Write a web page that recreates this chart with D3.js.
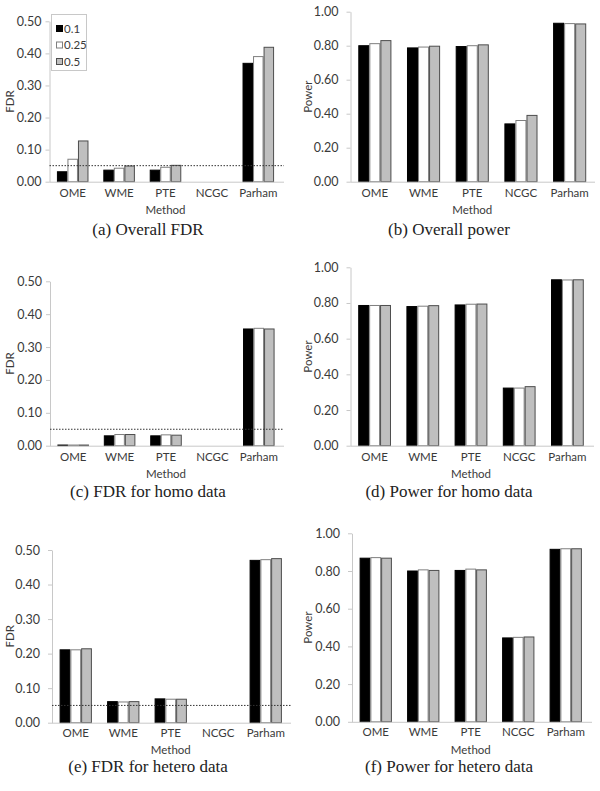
<!DOCTYPE html>
<html>
<head>
<meta charset="utf-8">
<script src="https://cdn.jsdelivr.net/npm/d3@7"></script>
<style>
  html, body { margin: 0; padding: 0; background: #fff; }
  svg { display: block; }
</style>
</head>
<body>
<svg id="chart" width="600" height="791"></svg>
<script>
// ---------------- DATA ----------------
const categories = ["OME", "WME", "PTE", "NCGC", "Parham"];
const levels = ["0.1", "0.25", "0.5"];
const fdrTicks = [0, 0.1, 0.2, 0.3, 0.4, 0.5];
const powerTicks = [0, 0.2, 0.4, 0.6, 0.8, 1.0];
const fdrThreshold = 0.05;

// each inner array: one level (0.1, 0.25, 0.5) across categories
const overallFDR = [
  [0.031, 0.036, 0.036, 0, 0.369],
  [0.070, 0.042, 0.045, 0, 0.390],
  [0.127, 0.049, 0.051, 0, 0.419]
];
const overallPower = [
  [0.800, 0.787, 0.795, 0.340, 0.932],
  [0.812, 0.792, 0.800, 0.360, 0.930],
  [0.830, 0.797, 0.805, 0.390, 0.928]
];
const homoFDR = [
  [0.002, 0.030, 0.030, 0, 0.355],
  [0.002, 0.034, 0.033, 0, 0.357],
  [0.002, 0.034, 0.032, 0, 0.355]
];
const homoPower = [
  [0.786, 0.780, 0.789, 0.323, 0.930],
  [0.786, 0.782, 0.793, 0.323, 0.929],
  [0.786, 0.785, 0.794, 0.331, 0.930]
];
const heteroFDR = [
  [0.211, 0.061, 0.069, 0, 0.470],
  [0.211, 0.060, 0.068, 0, 0.472],
  [0.214, 0.061, 0.068, 0, 0.475]
];
const heteroPower = [
  [0.868, 0.800, 0.803, 0.445, 0.915],
  [0.871, 0.806, 0.810, 0.448, 0.918],
  [0.868, 0.803, 0.806, 0.450, 0.918]
];
const captions = [
  "(a) Overall FDR", "(b) Overall power",
  "(c) FDR for homo data", "(d) Power for homo data",
  "(e) FDR for hetero data", "(f) Power for hetero data"
];

// ---------------- STYLE ----------------
const fills = ["#000000", "#ffffff", "#bfbfbf"];
const strokes = ["#000000", "#7f7f7f", "#4d4d4d"];
const axisColor = "#c8c8c8";
const textColor = "#3a3a3a";
const sans = "Lato, 'Open Sans', sans-serif";
const serif = "'Liberation Serif', 'DejaVu Serif', serif";

const svg = d3.select("#chart");

function drawPanel(cfg) {
  const g = svg.append("g");
  const x = d3.scaleBand().domain(categories).range([cfg.x0, cfg.x1])
    .paddingInner(0.32).paddingOuter(0.16);
  const xs = d3.scaleBand().domain(levels).range([0, x.bandwidth()]);
  const y = d3.scaleLinear().domain([0, cfg.ymax]).range([cfg.yb, cfg.yt]);

  // y axis
  const ya = g.append("g").attr("transform", `translate(${cfg.x0},0)`)
    .call(d3.axisLeft(y).tickValues(cfg.ticks).tickFormat(d3.format(".2f"))
      .tickSize(4).tickSizeOuter(0).tickPadding(cfg.tickPad));
  ya.select(".domain").attr("stroke", axisColor);
  ya.selectAll(".tick line").attr("stroke", axisColor);
  ya.selectAll(".tick text").attr("fill", textColor)
    .style("font-family", sans).style("font-size", "12.5px");

  // bars
  levels.forEach((lv, li) => {
    const vals = cfg.values[li];
    g.append("g").selectAll("rect")
      .data(categories.map((c, ci) => ({ c, v: vals[ci] })).filter(d => d.v > 0))
      .join("rect")
      .attr("x", d => x(d.c) + xs(lv) + 0.5)
      .attr("width", xs.bandwidth() - 1)
      .attr("y", d => y(d.v))
      .attr("height", d => y(0) - y(d.v))
      .attr("fill", fills[li])
      .attr("stroke", strokes[li])
      .attr("stroke-width", 1);
  });

  // x axis
  const xa = g.append("g").attr("transform", `translate(0,${cfg.yb})`)
    .call(d3.axisBottom(x).tickSize(0).tickSizeOuter(0).tickPadding(cfg.catPad));
  xa.select(".domain").attr("stroke", axisColor).attr("d", `M${cfg.x0},0.5H${cfg.xEnd}`);
  xa.selectAll(".tick text").attr("fill", textColor)
    .style("font-family", sans).style("font-size", "11.5px");

  // threshold line
  if (cfg.threshold) {
    g.append("line")
      .attr("x1", cfg.x0).attr("x2", cfg.xEnd)
      .attr("y1", y(fdrThreshold)).attr("y2", y(fdrThreshold))
      .attr("stroke", "#333").attr("stroke-width", 1)
      .attr("stroke-dasharray", "1.5,1.5");
  }

  // y label
  g.append("text")
    .attr("transform", `translate(${cfg.ylabX},${(cfg.yb + cfg.yt) / 2}) rotate(-90)`)
    .attr("text-anchor", "middle")
    .attr("fill", textColor)
    .style("font-family", sans).style("font-size", "11.5px")
    .text(cfg.ylabel);

  // x label
  g.append("text")
    .attr("x", (cfg.x0 + cfg.x1) / 2).attr("y", cfg.methodY)
    .attr("text-anchor", "middle").attr("fill", textColor)
    .style("font-family", sans).style("font-size", "11.5px")
    .text("Method");

  // caption
  g.append("text")
    .attr("x", cfg.capX).attr("y", cfg.capY)
    .attr("text-anchor", "middle").attr("fill", "#222")
    .style("font-family", serif).style("font-size", "17px")
    .text(cfg.caption);

  // legend
  if (cfg.legend) {
    const lg = g.append("g");
    lg.append("rect").attr("x", 51.5).attr("y", 14.5).attr("width", 35).attr("height", 56)
      .attr("fill", "#fff").attr("stroke", axisColor);
    levels.forEach((lv, li) => {
      const cy = 29 + li * 16.5;
      lg.append("rect").attr("x", 56.5).attr("y", cy - 3.5).attr("width", 6).attr("height", 6)
        .attr("fill", fills[li]).attr("stroke", strokes[li]);
      lg.append("text").attr("x", 64).attr("y", cy + 3.5)
        .attr("fill", textColor)
        .style("font-family", sans).style("font-size", "11.5px")
        .text(lv);
    });
  }
}

const left = { tickPad: 4, ylabX: 14, capX: 148 };
const right = { tickPad: 8, ylabX: 312, capX: 449 };

drawPanel(Object.assign({}, left, {
  values: overallFDR, x0: 49.5, x1: 281.5, xEnd: 284, yb: 181.7, yt: 21.3, ymax: 0.5,
  ticks: fdrTicks, ylabel: "FDR", threshold: true, legend: true,
  catPad: 7, methodY: 214, capY: 235, caption: captions[0]
}));
drawPanel(Object.assign({}, right, {
  values: overallPower, x0: 350.5, x1: 594, xEnd: 595, yb: 181.7, yt: 11.7, ymax: 1.0,
  ticks: powerTicks, ylabel: "Power",
  catPad: 7, methodY: 214, capY: 235, caption: captions[1]
}));
drawPanel(Object.assign({}, left, {
  values: homoFDR, x0: 50, x1: 282, xEnd: 284, yb: 445.7, yt: 281.3, ymax: 0.5,
  ticks: fdrTicks, ylabel: "FDR", threshold: true,
  catPad: 7, methodY: 478, capY: 497, caption: captions[2]
}));
drawPanel(Object.assign({}, right, {
  values: homoPower, x0: 350.5, x1: 591.5, xEnd: 594, yb: 445.7, yt: 267.3, ymax: 1.0,
  ticks: powerTicks, ylabel: "Power",
  catPad: 7, methodY: 478, capY: 497, caption: captions[3]
}));
drawPanel(Object.assign({}, left, {
  values: heteroFDR, x0: 52, x1: 289.5, xEnd: 291, yb: 722.7, yt: 550, ymax: 0.5,
  ticks: fdrTicks, ylabel: "FDR", threshold: true, tickPad: 8,
  catPad: 6, methodY: 754, capY: 772, caption: captions[4]
}));
drawPanel(Object.assign({}, right, {
  values: heteroPower, x0: 352, x1: 589.5, xEnd: 592, yb: 721.8, yt: 533.3, ymax: 1.0,
  ticks: powerTicks, ylabel: "Power",
  catPad: 6, methodY: 754, capY: 772, caption: captions[5]
}));
</script>
</body>
</html>
